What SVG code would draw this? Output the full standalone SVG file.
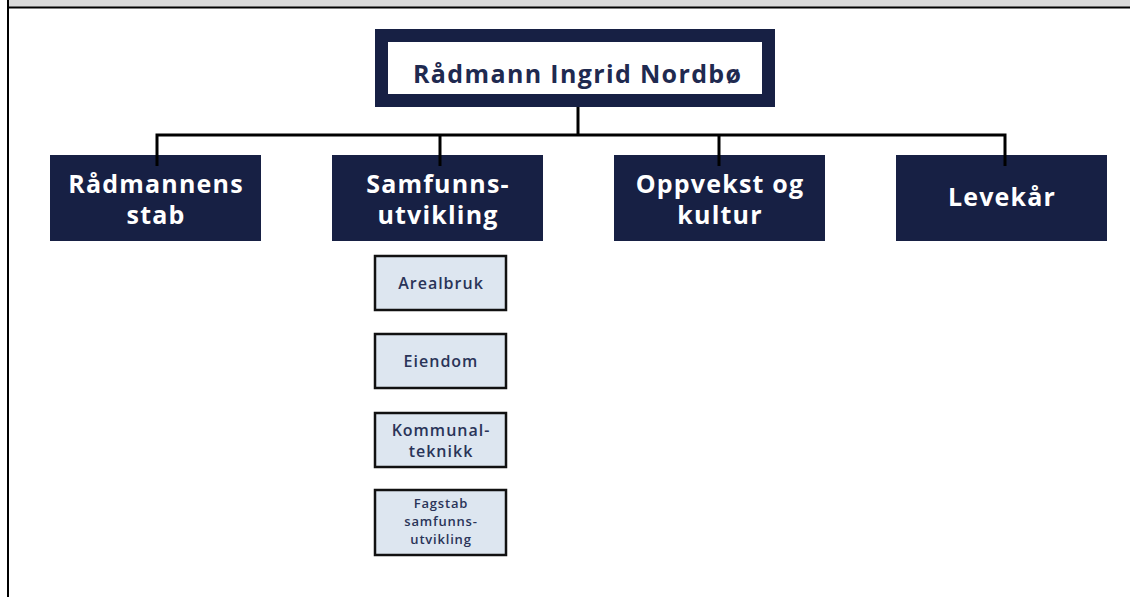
<svg xmlns="http://www.w3.org/2000/svg" width="1130" height="597" viewBox="0 0 1130 597">
<style>
.dept{fill:#172044;}
.dt{font-family:"Open Sans","Liberation Sans",sans-serif;font-weight:700;font-size:25px;letter-spacing:1.2px;fill:#ffffff;text-anchor:middle;}
.sub{fill:#dde6f0;stroke:#111111;stroke-width:2.5;}
.st{font-family:"Open Sans","Liberation Sans",sans-serif;font-weight:600;font-size:16px;letter-spacing:1px;fill:#2a3458;text-anchor:middle;}
.ss{font-family:"Open Sans","Liberation Sans",sans-serif;font-weight:600;font-size:13px;letter-spacing:0.8px;fill:#2a3458;text-anchor:middle;}
.ln{stroke:#000000;stroke-width:3;fill:none;}
</style>
<rect x="0" y="0" width="1130" height="597" fill="#ffffff"/>
<g id="frame">
<rect x="9" y="0" width="1121" height="7" fill="#d9d9d9"/>
<rect x="9" y="6.5" width="1121" height="2" fill="#000000"/>
<rect x="7" y="0" width="2" height="597" fill="#000000"/>
</g>
<g id="node-radmann">
<rect x="381.5" y="35.5" width="387" height="65" fill="#ffffff" stroke="#172044" stroke-width="13"/>
<text x="577" y="83" font-family="'Open Sans','Liberation Sans',sans-serif" font-weight="700" font-size="25" fill="#1f2a50" text-anchor="middle" textLength="328" lengthAdjust="spacing">Rådmann Ingrid Nordbø</text>
</g>
<g id="node-stab">
<rect class="dept" x="50" y="155" width="211" height="86"/>
<text class="dt" x="156" y="193">Rådmannens</text>
<text class="dt" x="156" y="224">stab</text>
</g>
<g id="node-samfunn">
<rect class="dept" x="332" y="155" width="211" height="86"/>
<text class="dt" x="438" y="193">Samfunns-</text>
<text class="dt" x="438" y="224">utvikling</text>
</g>
<g id="node-oppvekst">
<rect class="dept" x="614" y="155" width="211" height="86"/>
<text class="dt" x="720" y="193">Oppvekst og</text>
<text class="dt" x="720" y="224">kultur</text>
</g>
<g id="node-levekar">
<rect class="dept" x="896" y="155" width="211" height="86"/>
<text class="dt" x="1002" y="206">Levekår</text>
</g>
<g id="node-arealbruk">
<rect class="sub" x="375" y="256" width="131" height="54"/>
<text class="st" x="441" y="289">Arealbruk</text>
</g>
<g id="node-eiendom">
<rect class="sub" x="375" y="334" width="131" height="54"/>
<text class="st" x="441" y="367">Eiendom</text>
</g>
<g id="node-kommunal">
<rect class="sub" x="375" y="413" width="131" height="54"/>
<text class="st" x="441" y="436">Kommunal-</text>
<text class="st" x="441" y="457">teknikk</text>
</g>
<g id="node-fagstab">
<rect class="sub" x="375" y="490" width="131" height="65"/>
<text class="ss" x="441" y="508">Fagstab</text>
<text class="ss" x="441" y="526">samfunns-</text>
<text class="ss" x="441" y="544">utvikling</text>
</g>
<g id="connectors">
<line class="ln" x1="578" y1="107" x2="578" y2="135"/>
<polyline class="ln" points="157,166 157,135 1005,135 1005,166"/>
<line class="ln" x1="440" y1="135" x2="440" y2="166"/>
<line class="ln" x1="719" y1="135" x2="719" y2="166"/>
</g>
</svg>
